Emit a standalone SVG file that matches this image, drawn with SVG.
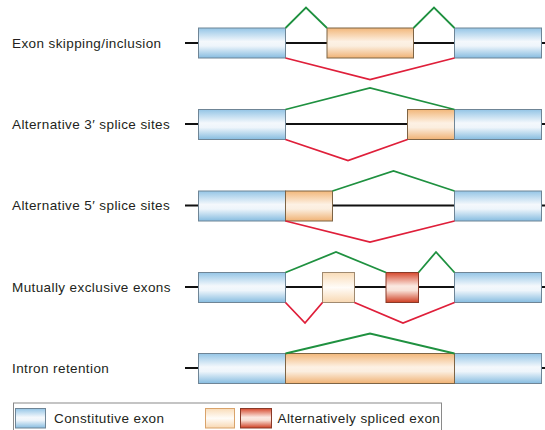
<svg xmlns="http://www.w3.org/2000/svg" width="545" height="430" viewBox="0 0 545 430">
  <defs>
    <linearGradient id="gBlue" x1="0" y1="0" x2="0" y2="1">
      <stop offset="0" stop-color="#94c5e6"/>
      <stop offset="0.45" stop-color="#f4f8fc"/>
      <stop offset="0.6" stop-color="#eef5fb"/>
      <stop offset="1" stop-color="#86bce0"/>
    </linearGradient>
    <linearGradient id="gOrange" x1="0" y1="0" x2="0" y2="1">
      <stop offset="0" stop-color="#f2b77a"/>
      <stop offset="0.45" stop-color="#fdf1e4"/>
      <stop offset="0.6" stop-color="#fbeedf"/>
      <stop offset="1" stop-color="#f0b274"/>
    </linearGradient>
    <linearGradient id="gPale" x1="0" y1="0" x2="0" y2="1">
      <stop offset="0" stop-color="#f9dcb8"/>
      <stop offset="0.5" stop-color="#fffcf8"/>
      <stop offset="1" stop-color="#f8d8b2"/>
    </linearGradient>
    <linearGradient id="gRed" x1="0" y1="0" x2="0" y2="1">
      <stop offset="0" stop-color="#d6492e"/>
      <stop offset="0.45" stop-color="#fbe9e2"/>
      <stop offset="0.6" stop-color="#f8e0d6"/>
      <stop offset="1" stop-color="#cf3e22"/>
    </linearGradient>
  </defs>
  <style>
    .lbl { font-family: "Liberation Sans", Arial, sans-serif; font-size: 13.5px; letter-spacing: 0.4px; fill: #231f20; }
    .intron { stroke: #111; stroke-width: 2; fill: none; }
    .const { fill: url(#gBlue); stroke: #6f8596; stroke-width: 1; }
    .alt { fill: url(#gOrange); stroke: #7d6445; stroke-width: 1; }
    .pale { fill: url(#gPale); stroke: #a08a70; stroke-width: 1; }
    .altred { fill: url(#gRed); stroke: #8a3a28; stroke-width: 1; }
    .inc { stroke: #1f9140; stroke-width: 1.8; fill: none; stroke-linejoin: miter; }
    .skip { stroke: #df1f3a; stroke-width: 1.8; fill: none; stroke-linejoin: miter; }
  </style>

  <!-- Row 1: exon skipping / inclusion -->
  <g id="row-exon-skipping">
    <text class="lbl" x="12" y="47.5">Exon skipping/inclusion</text>
    <line class="intron" x1="185" y1="43" x2="545" y2="43"/>
    <rect class="const" x="198.5" y="28" width="87" height="30"/>
    <rect class="alt" x="327" y="28" width="86.5" height="30"/>
    <rect class="const" x="454.5" y="28" width="87" height="30"/>
  </g>

  <!-- Row 2: alternative 3' splice sites -->
  <g id="row-alt3">
    <text class="lbl" x="12" y="128.5">Alternative 3′ splice sites</text>
    <line class="intron" x1="185" y1="124" x2="545" y2="124"/>
    <rect class="const" x="198.5" y="109.5" width="87" height="30"/>
    <rect class="alt" x="407.5" y="109.5" width="47" height="30"/>
    <rect class="const" x="454.5" y="109.5" width="87" height="30"/>
  </g>

  <!-- Row 3: alternative 5' splice sites -->
  <g id="row-alt5">
    <text class="lbl" x="12" y="209.5">Alternative 5′ splice sites</text>
    <line class="intron" x1="185" y1="205.5" x2="545" y2="205.5"/>
    <rect class="const" x="198.5" y="191" width="87" height="30"/>
    <rect class="alt" x="285.5" y="191" width="47" height="30"/>
    <rect class="const" x="454.5" y="191" width="87" height="30"/>
  </g>

  <!-- Row 4: mutually exclusive exons -->
  <g id="row-mutex">
    <text class="lbl" x="12" y="291.5">Mutually exclusive exons</text>
    <line class="intron" x1="185" y1="287" x2="545" y2="287"/>
    <rect class="const" x="198.5" y="272.5" width="87" height="30"/>
    <rect class="pale" x="322.5" y="272.5" width="32" height="30"/>
    <rect class="altred" x="386" y="272.5" width="32.5" height="30"/>
    <rect class="const" x="454.5" y="272.5" width="87" height="30"/>
  </g>

  <!-- Row 5: intron retention -->
  <g id="row-retention">
    <text class="lbl" x="12" y="372.5">Intron retention</text>
    <line class="intron" x1="185" y1="368" x2="545" y2="368"/>
    <rect class="const" x="198.5" y="353.5" width="87" height="30"/>
    <rect class="const" x="454.5" y="353.5" width="87" height="30"/>
    <rect class="alt" x="285.5" y="353.5" width="169" height="30"/>
  </g>

  <!-- Splice junctions -->
  <g id="connectors">
    <polyline class="inc" points="285.5,28 306,7.5 327,28"/>
    <polyline class="inc" points="413.5,28 434,7.5 454.5,28"/>
    <polyline class="skip" points="285.5,58 370,79.5 454.5,58"/>

    <polyline class="inc" points="285.5,109.5 370,88 454.5,109.5"/>
    <polyline class="skip" points="285.5,139.5 348,160.5 407.5,139.5"/>

    <polyline class="inc" points="332.5,191 393.5,171 454.5,191"/>
    <polyline class="skip" points="285.5,221 370,242 454.5,221"/>

    <polyline class="inc" points="285.5,272.5 336,252 386,272.5"/>
    <polyline class="inc" points="418.5,272.5 436,252 454.5,272.5"/>
    <polyline class="skip" points="285.5,302.5 305,323 322.5,302.5"/>
    <polyline class="skip" points="354.5,302.5 403,323 454.5,302.5"/>

    <polyline class="inc" points="285.5,353.5 370,333.5 454.5,353.5"/>
  </g>

  <!-- Key -->
  <g id="legend">
    <rect x="13.5" y="403" width="428" height="30" fill="#fff" stroke="#8a8a8a" stroke-width="1"/>
    <rect class="const" x="15.5" y="408.5" width="30" height="19.5"/>
    <text class="lbl" x="54" y="423">Constitutive exon</text>
    <rect class="pale" x="205.5" y="408.5" width="29" height="19.5" style="stroke:#d9a36a"/>
    <rect class="altred" x="240.5" y="408.5" width="31" height="19.5"/>
    <text class="lbl" x="277.5" y="423">Alternatively spliced exon</text>
  </g>
</svg>
